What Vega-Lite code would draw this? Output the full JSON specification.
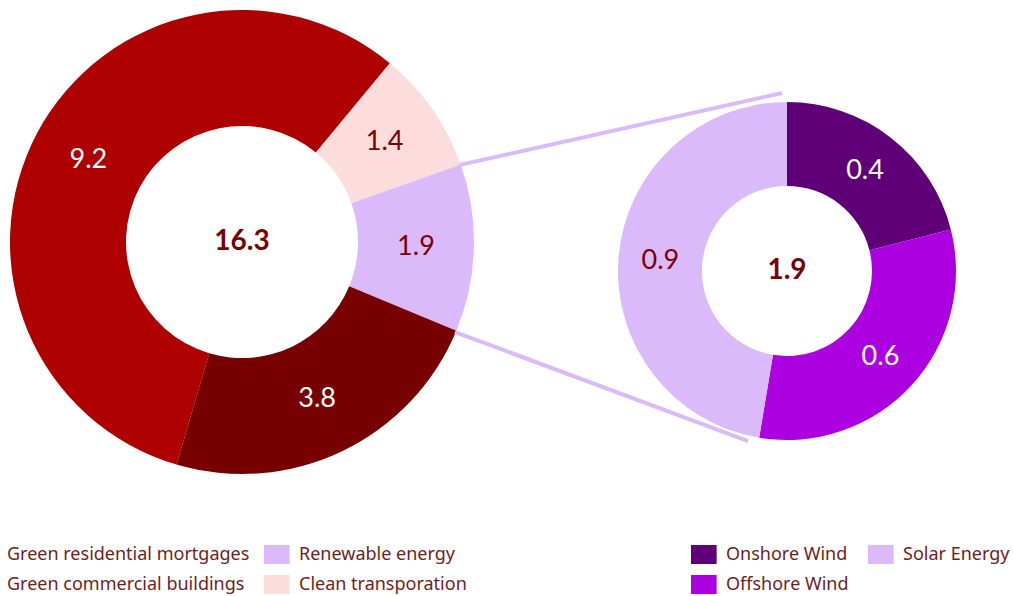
{
  "$schema": "https://vega.github.io/schema/vega-lite/v6.json",
  "padding": 0,
  "background": "white",
  "spacing": 133,
  "bounds": "flush",
  "datasets": {
    "green": [
      {"category": "Green residential mortgages", "value": 9.2, "seq": 1},
      {"category": "Clean transporation", "value": 1.4, "seq": 2},
      {"category": "Renewable energy", "value": 1.9, "seq": 3},
      {"category": "Green commercial buildings", "value": 3.8, "seq": 4}
    ],
    "renewable": [
      {"category": "Onshore Wind", "value": 0.4, "seq": 1},
      {"category": "Offshore Wind", "value": 0.6, "seq": 2},
      {"category": "Solar Energy", "value": 0.9, "seq": 3}
    ],
    "connectors": [
      {"x": -1.924, "y": 0.624, "x2": -0.029, "y2": 1.047},
      {"x": -1.953, "y": -0.359, "x2": -0.229, "y2": -1.0}
    ]
  },
  "hconcat": [
    {
      "width": 484,
      "height": 484,
      "data": {"name": "green"},
      "encoding": {
        "theta": {"field": "value", "type": "quantitative", "stack": true, "scale": {"range": [3.4278, 9.711]}},
        "order": {"field": "seq", "type": "quantitative"}
      },
      "layer": [
        {
          "mark": {"type": "arc", "innerRadius": 116, "outerRadius": 232},
          "encoding": {
            "color": {
              "field": "category",
              "type": "nominal",
              "scale": {
                "domain": ["Green residential mortgages", "Green commercial buildings", "Renewable energy", "Clean transporation"],
                "range": ["#af0000", "#770000", "#dbbafc", "#fddcdc"]
              },
              "legend": {
                "title": null,
                "orient": "none",
                "legendX": 7,
                "legendY": 545,
                "columns": 2,
                "columnPadding": 14,
                "encode": {
                  "symbols": {"update": {
                    "x": {"value": 9.5},
                    "opacity": {"signal": "datum.value == 'Green residential mortgages' || datum.value == 'Green commercial buildings' ? 0 : 1"}
                  }},
                  "labels": {"update": {
                    "x": {"signal": "datum.value == 'Green residential mortgages' || datum.value == 'Green commercial buildings' ? 0 : 35"}
                  }}
                }
              }
            }
          }
        },
        {
          "mark": {"type": "text", "radius": 174, "font": "Lato", "fontSize": 27},
          "encoding": {
            "detail": {"field": "category", "type": "nominal"},
            "text": {"field": "value", "type": "quantitative", "format": ".1f"},
            "color": {
              "condition": {"test": "datum.category == 'Green residential mortgages' || datum.category == 'Green commercial buildings'", "value": "#ffffff"},
              "value": "#7a0000"
            }
          }
        },
        {
          "transform": [{"aggregate": [{"op": "sum", "field": "value", "as": "total"}]}],
          "mark": {"type": "text", "font": "Lato", "fontSize": 28, "fontWeight": "bold", "color": "#780000"},
          "encoding": {
            "theta": null,
            "order": null,
            "text": {"field": "total", "type": "quantitative", "format": ".1f"}
          }
        }
      ]
    },
    {
      "width": 340,
      "height": 542,
      "layer": [
        {
          "data": {"name": "connectors"},
          "mark": {"type": "rule", "color": "#dbbafc", "strokeWidth": 4},
          "encoding": {
            "x": {"field": "x", "type": "quantitative", "scale": {"domain": [-1, 1], "nice": false, "zero": false}, "axis": null},
            "y": {"field": "y", "type": "quantitative", "scale": {"domain": [-1.594, 1.594], "nice": false, "zero": false}, "axis": null},
            "x2": {"field": "x2"},
            "y2": {"field": "y2"}
          }
        },
        {
          "data": {"name": "renewable"},
          "encoding": {
            "theta": {"field": "value", "type": "quantitative", "stack": true},
            "order": {"field": "seq", "type": "quantitative"}
          },
          "layer": [
            {
              "mark": {"type": "arc", "innerRadius": 85, "outerRadius": 169},
              "encoding": {
                "color": {
                  "field": "category",
                  "type": "nominal",
                  "scale": {
                    "domain": ["Onshore Wind", "Offshore Wind", "Solar Energy"],
                    "range": ["#5f0078", "#ad00e0", "#dbbafc"]
                  },
                  "legend": {
                    "title": null,
                    "orient": "none",
                    "legendX": 74,
                    "legendY": 545,
                    "columns": 2,
                    "encode": {
                      "symbols": {"update": {"x": {"value": 9.5}}},
                      "labels": {"update": {"x": {"value": 35}}}
                    }
                  }
                }
              }
            },
            {
              "mark": {"type": "text", "radius": 127, "font": "Lato", "fontSize": 27},
              "encoding": {
                "detail": {"field": "category", "type": "nominal"},
                "text": {"field": "value", "type": "quantitative", "format": ".1f"},
                "color": {
                  "condition": {"test": "datum.category != 'Solar Energy'", "value": "#ffffff"},
                  "value": "#7a0000"
                }
              }
            },
            {
              "transform": [{"aggregate": [{"op": "sum", "field": "value", "as": "total"}]}],
              "mark": {"type": "text", "font": "Lato", "fontSize": 28, "fontWeight": "bold", "color": "#780000"},
              "encoding": {
                "theta": null,
                "order": null,
                "text": {"field": "total", "type": "quantitative", "format": ".1f"}
              }
            }
          ]
        }
      ]
    }
  ],
  "resolve": {"scale": {"color": "independent", "theta": "independent"}},
  "config": {
    "view": {"stroke": null},
    "legend": {
      "padding": 0,
      "labelFont": "Noto Sans",
      "labelFontSize": 18,
      "labelColor": "#701c1c",
      "labelLimit": 400,
      "symbolType": "M-1,-1H1.7V1H-1Z",
      "symbolSize": 361,
      "symbolStrokeWidth": 0,
      "symbolOpacity": 1,
      "rowPadding": 11,
      "columnPadding": 19
    }
  }
}
